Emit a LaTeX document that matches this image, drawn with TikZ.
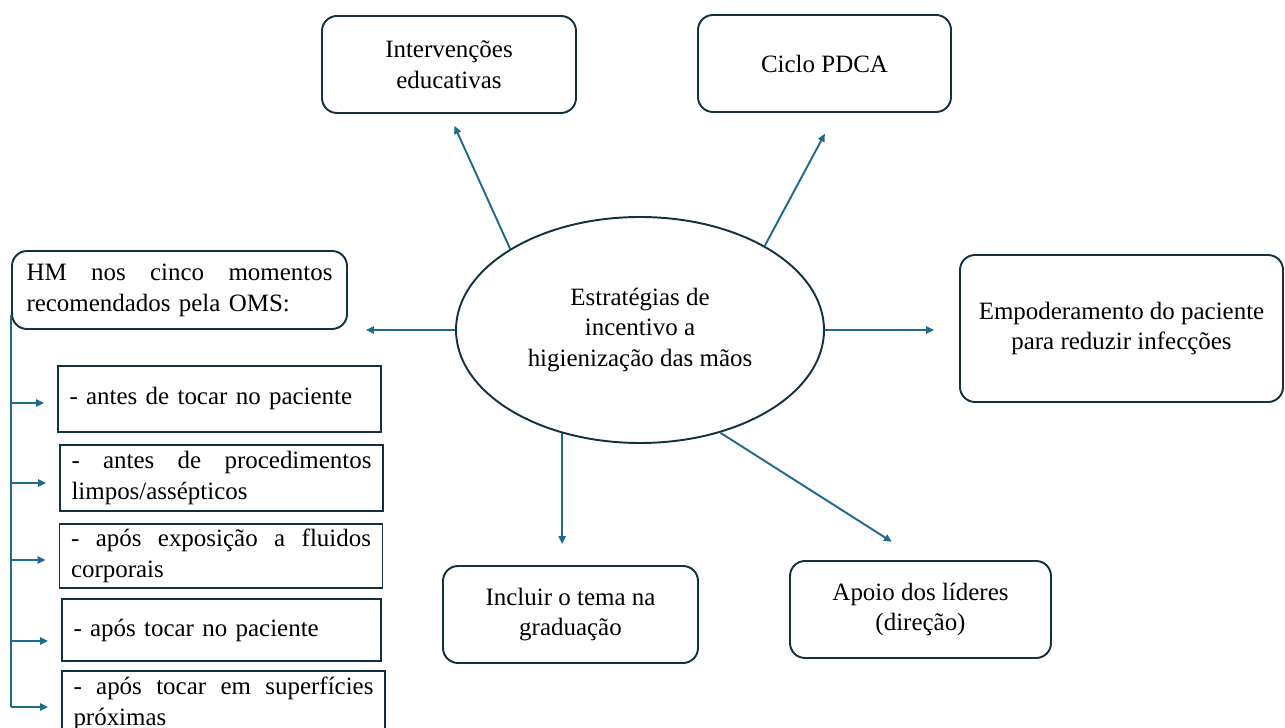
\documentclass[tikz,border=0pt]{standalone}
\usepackage{fontspec}
\setmainfont{Liberation Serif}
\usepackage{xcolor}
\usetikzlibrary{arrows.meta, positioning}
\usetikzlibrary{shapes.geometric}
\definecolor{edgeblue}{HTML}{1F6A8F}
\definecolor{boxnavy}{HTML}{14313F}
\tikzstyle{arrow} = [line width=1.1pt, draw=edgeblue, -{Triangle[length=4.5pt,width=4pt]}]

\begin{document}
\begin{tikzpicture}[
        font=\fontsize{14.2}{17.6}\selectfont,
        roundbox/.style={draw=boxnavy, line width=1.1pt, rounded corners=0.3cm, align=center, inner sep=0.1cm},
        listbox/.style={draw=boxnavy, line width=1.1pt, text width=6cm, inner xsep=0.23cm, inner ysep=0.05cm, align=left, minimum height=1.32cm}
    ]
        \useasboundingbox (0,0) rectangle (25.7,-14.56);

        % Central ellipse
        \node[ellipse, draw=boxnavy, line width=1.1pt, minimum width=7.36cm, minimum height=4.52cm, align=center] (strategy) at (12.8,-6.6) {Estratégias de\\incentivo a\\higienização das mãos};

        % Strategy boxes
        \node[roundbox, minimum width=5.08cm, minimum height=1.94cm] (education) at (8.98,-1.29) {Intervenções\\educativas};
        \node[roundbox, minimum width=5.06cm, minimum height=1.94cm] (pdca) at (16.49,-1.27) {Ciclo PDCA};
        \node[roundbox, minimum width=6.46cm, minimum height=2.94cm] (empower) at (22.43,-6.57) {Empoderamento do paciente\\para reduzir infecções};
        \node[roundbox, minimum width=5.1cm, minimum height=1.94cm] (course) at (11.41,-12.29) {Incluir o tema na\\graduação};
        \node[roundbox, minimum width=5.22cm, minimum height=1.94cm] (leaders) at (18.41,-12.19) {Apoio dos líderes\\(direção)};
        \node[roundbox, text width=6.12cm, inner xsep=0.29cm, align=left, minimum height=1.56cm] (hm) at (3.59,-5.8) {\makebox[6.12cm][s]{HM\hfill nos\hfill cinco\hfill momentos}\\recomendados pela OMS:};

        % Five moments
        \node[listbox] (m1) at (4.39,-7.98) {- antes de tocar no paciente};
        \node[listbox] (m2) at (4.43,-9.56) {\makebox[6cm][s]{-\hfill antes\hfill de\hfill procedimentos}\\limpos/assépticos};
        \node[listbox, minimum height=1.28cm] (m3) at (4.42,-11.12) {\makebox[6cm][s]{-\hfill após\hfill exposição\hfill a\hfill fluidos}\\corporais};
        \node[listbox, text width=5.92cm, minimum height=1.24cm] (m4) at (4.43,-12.6) {- após tocar no paciente};
        \node[listbox] (m5) at (4.47,-14.08) {\makebox[6cm][s]{-\hfill após\hfill tocar\hfill em\hfill superfícies}\\próximas};

        % Arrows from the centre
        \draw[arrow, shorten >=0.36cm] (strategy.west) -- (hm.east |- strategy.west);
        \draw[arrow, shorten >=0.5cm] (strategy.east) -- (strategy.east -| empower.west);
        \draw[arrow, shorten >=0.26cm] (strategy.148) -- (education.south);
        \draw[arrow, shorten >=0.47cm] (strategy.34) -- ([xshift=0.23cm]pdca.south);
        \draw[arrow, shorten >=0.42cm] (strategy.233) -- (strategy.233 |- course.north);
        \draw[arrow, shorten >=0.68cm] (strategy.-52) -- (leaders.north);

        % Bracket to the five moments
        \coordinate (t1) at ([yshift=-0.08cm]m1.west);
        \coordinate (t2) at ([yshift=-0.1cm]m2.west);
        \coordinate (t3) at ([yshift=-0.08cm]m3.west);
        \coordinate (t4) at ([yshift=-0.22cm]m4.west);
        \coordinate (t5) at ([yshift=-0.06cm]m5.west);
        \draw[line width=1.1pt, draw=edgeblue] ([yshift=0.3cm]hm.south west) -- (hm.south west |- t5);
        \foreach \t in {t1,t2,t3,t4,t5}
            \draw[arrow, shorten >=0.26cm] (hm.south west |- \t) -- (\t);
    \end{tikzpicture}
\end{document}
